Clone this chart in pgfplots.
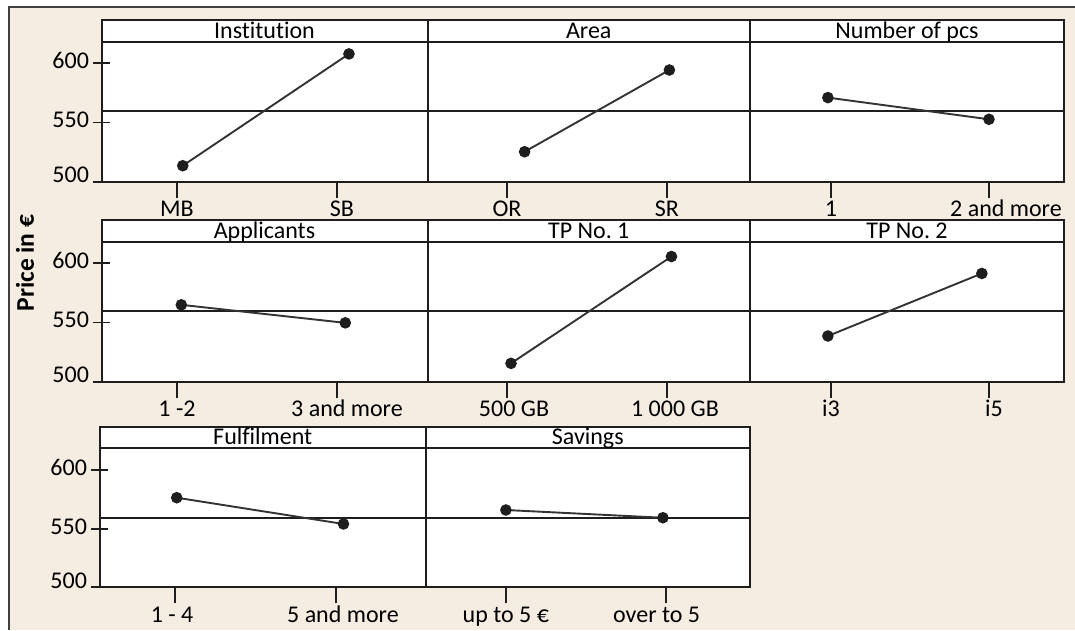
\documentclass[border=0pt]{standalone}
\usepackage{fontspec}
\setmainfont{Carlito}[Ligatures=NoCommon]
\usepackage{pgfplots}
\pgfplotsset{compat=1.18}
\definecolor{bg}{HTML}{F5ECE2}
\definecolor{fr}{HTML}{1E1E1E}
\definecolor{ln}{HTML}{333333}
\frenchspacing
\pgfplotsset{
 panel/.style={
   scale only axis, height=140pt, ymin=500, ymax=618.2,
   axis line style={fr, line width=2pt},
   axis background/.style={fill=white},
   xtick={0,1}, ytick=\empty, tick pos=left,
   tick align=outside, major tick length=16pt,
   tick style={fr, line width=1.8pt},
   ytick style={xshift=8pt},
   xticklabel style={inner sep=0pt},
   yticklabel style={xshift=7pt},
   typeset ticklabels with strut,
   tick label style={font=\fontsize{24}{27}\selectfont},
   every axis title/.style={at={(0.5,1)}, anchor=south, draw=fr, fill=white,
     line width=2pt, inner sep=0pt, outer sep=0pt, minimum height=21.7pt,
     text height=14.5pt, text depth=0pt, font=\fontsize{24}{27}\selectfont},
 },
 yleft/.style={ytick={500,550,600}, yticklabels={\raisebox{5pt}{500},550,600}},
}
\newcommand{\panel}[9]{%
\begin{axis}[panel, at={(#1pt,-#2pt)}, anchor=south west, width=#3pt,
  xmin=#4, xmax=#5, title={#6}, title style={minimum width=#3pt},
  xticklabels={#7}, #9]
\addplot[fr, line width=2pt] coordinates {(#4,559.3) (#5,559.3)};
\addplot[ln, line width=1.9pt, mark=*, mark size=4.8pt, mark options={fill=fr,draw=fr,solid}] coordinates {#8};
\end{axis}}
\begin{document}
\begin{tikzpicture}
\useasboundingbox (0,0) rectangle (1075pt,-630pt);
\fill[white] (0,0) rectangle (1075pt,-630pt);
\fill[bg] (9pt,-7pt) rectangle (1075pt,-630pt);
\draw[fr!85, line width=1.8pt] (9pt,-630pt) -- (9pt,-7pt) -- (1075pt,-7pt);
% row 1
\panel{101.5}{181.7}{326}{-0.472}{1.566}{Institution}{MB,\hspace*{10pt}SB}{(0.036,513.5) (1.075,607.9)}{yleft}
\panel{427.5}{181.7}{322.5}{-0.497}{1.519}{Area}{OR,SR}{(0.11,525.3) (1.015,594.3)}{}
\panel{750}{181.7}{314}{-0.513}{1.475}{Number of pcs}{1,\hspace*{34pt}2 and more}{(-0.02,571) (1.0,552.7)}{}
% row 2
\panel{101.5}{381.7}{326}{-0.472}{1.566}{Applicants}{1 -2,\hspace*{20pt}3 and more}{(0.027,564.9) (1.052,549.7)}{yleft}
\panel{427.5}{381.7}{322.5}{-0.497}{1.519}{TP No.\ 1}{\hspace*{14pt}500 GB,\hspace*{16pt}1 000 GB}{(0.025,515.5) (1.028,605.7)}{}
\panel{750}{381.7}{314}{-0.513}{1.475}{TP No.\ 2}{i3,\hspace*{10pt}i5}{(-0.02,538.6) (0.955,591.4)}{}
% row 3
\panel{99.5}{587.3}{326.5}{-0.47}{1.56}{Fulfilment}{1 - 4\hspace*{6pt},\hspace*{14pt}5 and more}{(0.01,576.4) (1.047,554)}{yleft, height=139pt, ymax=618.5}
\panel{426}{587.3}{323.5}{-0.50}{1.525}{Savings}{up to 5 €,over to 5\hspace*{18pt}}{(0,565.9) (0.983,559.3)}{height=139pt, ymax=618.5}
\node[rotate=90, font=\bfseries\fontsize{25.5}{28}\selectfont] at (25pt,-263pt) {Price in €};
\end{tikzpicture}
\end{document}
